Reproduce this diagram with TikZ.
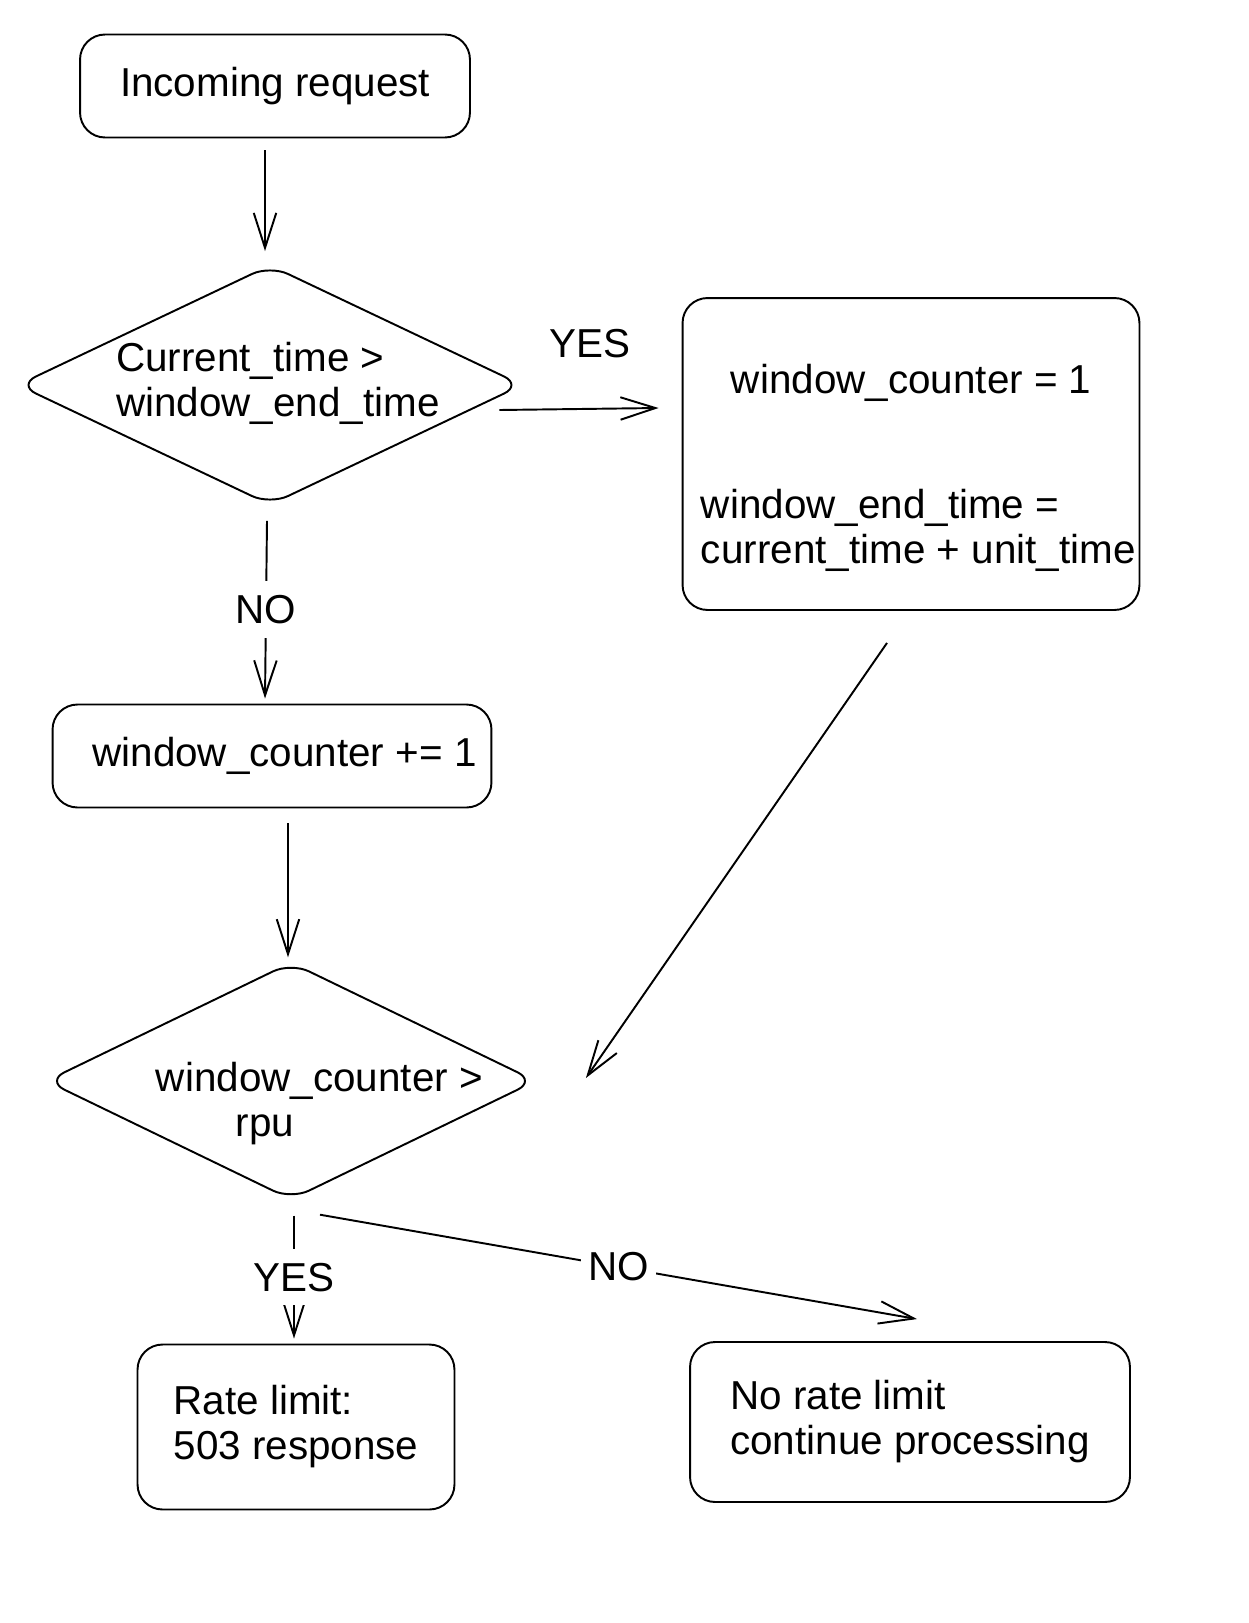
\documentclass[tikz,border=0pt]{standalone}
\usepackage{fontspec}
\setmainfont{Liberation Sans}
\usetikzlibrary{arrows.meta,shapes.geometric,calc}

\begin{document}
\begin{tikzpicture}[x=0.02cm, y=-0.02cm, line width=1.1pt,
    every node/.style={font=\fontsize{23}{25.6}\selectfont},
    stepbox/.style={draw, rounded corners=0.5cm, inner sep=0},
    decide/.style={draw, diamond, rounded corners=0.4cm, inner sep=0},
    txt/.style={inner sep=0, align=left},
    cutlbl/.style={fill=white, inner xsep=4pt, inner ysep=8pt},
    arr/.style={-{Straight Barb[length=0.7cm, width=0.45cm]}}]
    \useasboundingbox (0,0) rectangle (1248,1623);

    \node[stepbox, minimum width=7.8cm, minimum height=2.06cm] (req) at (275,86) {Incoming request};

    \node[decide, minimum width=10.1cm, minimum height=4.8cm] (cmp1) at (270,385) {};
    \node[txt] (cmp1txt) at (278,383) {Current\_time >\\window\_end\_time};

    \node[stepbox, minimum width=9.14cm, minimum height=6.24cm] (reset) at (911,454) {};
    \node[txt, anchor=west] (resetA) at (730,383) {window\_counter = 1};
    \node[txt, anchor=west] (resetB) at (700,530) {window\_end\_time =\\current\_time + unit\_time};

    \node[stepbox, minimum width=8.78cm, minimum height=2.06cm] (inc) at (272,756) {\hspace*{0.5cm}window\_counter += 1};

    \node[decide, minimum width=9.8cm, minimum height=4.75cm] (cmp2) at (291,1081) {};
    \node[txt, anchor=west] (cmp2txt) at (155,1104) {window\_counter >\\\hspace*{1.6cm}rpu};

    \node[stepbox, align=left, minimum width=6.34cm, minimum height=3.3cm] (rej) at (296,1427) {Rate limit:\\503 response};
    \node[stepbox, align=left, minimum width=8.8cm, minimum height=3.2cm] (ok) at (910,1422) {No rate limit\\continue processing};

    \draw[arr] ($(req.south)+(-10,12)$) -- ($(cmp1.north)+(-5,-13)$);
    \draw[arr] ($(cmp1.east)+(-24,25)$) -- node[pos=0.57, above=1cm, inner sep=0] (yes1) {YES} ($(reset.west)+(-23,-46)$);
    \draw[arr] ($(cmp1.south)+(-3,15)$) -- node[cutlbl] (no1) {NO} ($(inc.north)+(-7,-5)$);
    \draw[arr] ($(inc.south)+(16,15)$) -- ($(cmp2.north)+(-3,-4)$);
    \draw[arr] ($(reset.south)+(-24,32)$) -- ($(cmp2.east)+(49,-3)$);
    \draw[arr] ($(cmp2.south)+(3,15)$) -- node[cutlbl] (yes2) {YES} ($(rej.north)+(-2,-5)$);
    \draw[arr] ($(cmp2.south)+(29,14)$) -- node[cutlbl] (no2) {NO} ($(ok.north)+(7,-22)$);
\end{tikzpicture}
\end{document}
